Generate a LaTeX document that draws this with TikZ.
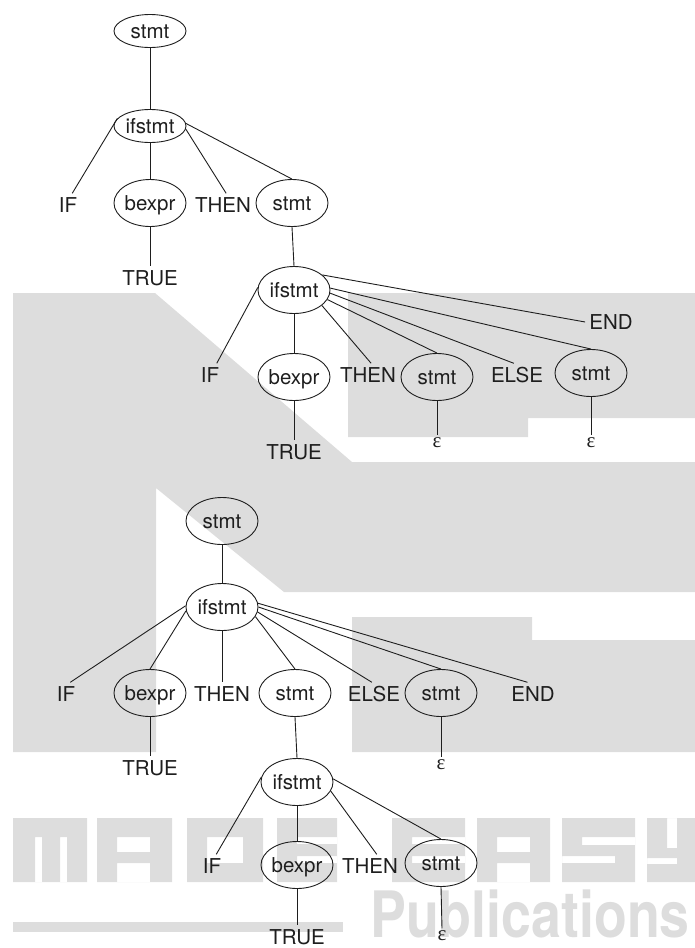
\documentclass[tikz,border=0pt]{standalone}
\usepackage{fontspec}
\setmainfont{TeX Gyre Heros}
\newfontfamily\epsfont{Liberation Serif}
\usetikzlibrary{shapes.geometric}
\definecolor{wmgray}{RGB}{221,221,221}
\definecolor{ink}{RGB}{30,30,30}

\begin{document}
\begin{tikzpicture}[x=1pt,y=-1pt,
  nt/.style={ellipse, draw=ink, line width=0.9pt, minimum width=72pt,
    minimum height=47pt, inner sep=0pt, text height=15pt, text depth=0pt,
    font=\fontsize{20.5}{21}\selectfont, text=ink},
  ntflat/.style={nt, minimum height=33pt},
  tok/.style={inner sep=4pt, text height=15pt, text depth=0pt,
    font=\fontsize{20.5}{21}\selectfont, text=ink},
  eps/.style={inner sep=3pt, text height=9pt, text depth=0pt,
    font=\epsfont\fontsize{21}{21}\selectfont, text=ink},
  edge/.style={draw=ink, line width=0.9pt}
]
\useasboundingbox (0,0) rectangle (695,948);

% background logo shapes
\fill[wmgray] (13,293) -- (155,293) -- (352,462) -- (695,462) -- (695,592)
  -- (284,592) -- (156,488) -- (156,752) -- (13,752) -- cycle;
\fill[wmgray] (348,293) -- (695,293) -- (695,418) -- (528,418) -- (528,437)
  -- (348,437) -- cycle;
\fill[wmgray] (352,617) -- (532,617) -- (532,640) -- (695,640) -- (695,752)
  -- (352,752) -- cycle;
% block letters
\fill[wmgray, even odd rule] (13,818) rectangle (87,882)
  (35,837) rectangle (42,882) (60,837) rectangle (67,882);
\fill[wmgray, even odd rule] (97,818) rectangle (172,882)
  (117,837) rectangle (150,852) (117,863) rectangle (150,882);
\fill[wmgray, even odd rule] (187,818) rectangle (263,882)
  (207,837) rectangle (243,863);
\fill[wmgray, even odd rule] (277,818) rectangle (337,882)
  (297,837) rectangle (337,844) (297,856) rectangle (337,863);
\fill[wmgray, even odd rule] (392,818) rectangle (465,882)
  (412,837) rectangle (465,844) (412,856) rectangle (465,863);
\fill[wmgray, even odd rule] (477,818) rectangle (550,882)
  (497,837) rectangle (530,852) (497,863) rectangle (530,882);
\fill[wmgray, even odd rule] (562,818) rectangle (635,882)
  (582,837) rectangle (635,845) (562,856) rectangle (615,863);
\fill[wmgray, even odd rule] (647,818) rectangle (695,882)
  (667,818) rectangle (677,848) (647,858) rectangle (677,864);
\fill[wmgray] (13,922) rectangle (343,932);
\node[anchor=base west, inner sep=0pt, text=wmgray,
  font=\fontsize{64}{64}\selectfont\bfseries] (pub) at (370,937)
  {\scalebox{0.84}[1]{Publications}};

% first tree
\node[ntflat] (s1) at (150,31) {stmt};
\node[ntflat] (i1) at (150,126) {ifstmt};
\node[tok] (if1) at (68,205) {IF};
\node[nt] (b1) at (150,203) {bexpr};
\node[tok] (th1) at (223,205) {THEN};
\node[nt] (s2) at (292,203) {stmt};
\node[tok] (tr1) at (150,278) {TRUE};
\node[nt] (i2) at (294,290) {ifstmt};
\node[tok] (if2) at (210,375) {IF};
\node[nt] (b2) at (294,377) {bexpr};
\node[tok] (th2) at (368,375) {THEN};
\node[nt] (s3) at (437,377) {stmt};
\node[tok] (el2) at (517,375) {ELSE};
\node[nt] (s4) at (591,373) {stmt};
\node[tok] (en2) at (611,322) {END};
\node[tok] (tr2) at (294,452) {TRUE};
\node[eps] (e3) at (437,443) {ε};
\node[eps] (e4) at (591,443) {ε};

\path[edge] (s1.south) -- (i1.north);
\path[edge] (i1.167) -- (if1.70);
\path[edge] (i1.south) -- (b1.north);
\path[edge] (i1.-5) -- (th1.75);
\path[edge] (i1.4) -- (s2.north);
\path[edge] (b1.south) -- (tr1.north);
\path[edge] (s2.south) -- (i2.north);
\path[edge] (i2.176) -- (if2.60);
\path[edge] (i2.south) -- (b2.north);
\path[edge] (i2.-29) -- (th2.75);
\path[edge] (i2.-16) -- (s3.north);
\path[edge] (i2.-5) -- (el2.105);
\path[edge] (i2.3) -- (s4.north);
\path[edge] (i2.28) -- (en2.west);
\path[edge] (b2.south) -- (tr2.north);
\path[edge] (s3.south) -- (e3.north);
\path[edge] (s4.south) -- (e4.north);

% second tree
\node[nt] (r) at (222,521) {stmt};
\node[nt] (j) at (222,607) {ifstmt};
\node[tok] (if3) at (66,694) {IF};
\node[nt] (b3) at (150,693) {bexpr};
\node[tok] (th3) at (222,694) {THEN};
\node[nt] (s5) at (295,693) {stmt};
\node[tok] (el3) at (374,694) {ELSE};
\node[nt] (s6) at (441,693) {stmt};
\node[tok] (en3) at (533,694) {END};
\node[tok] (tr3) at (150,768) {TRUE};
\node[eps] (e6) at (441,765) {ε};
\node[nt] (k) at (297,782) {ifstmt};
\node[tok] (if4) at (212,866) {IF};
\node[nt] (b4) at (297,865) {bexpr};
\node[tok] (th4) at (370,866) {THEN};
\node[nt] (s7) at (441,863) {stmt};
\node[tok] (tr4) at (297,937) {TRUE};
\node[eps] (e7) at (442,936) {ε};

\path[edge] (r.south) -- (j.north);
\path[edge] (j.178) -- (if3.70);
\path[edge] (j.186) -- (b3.north);
\path[edge] (j.south) -- (th3.north);
\path[edge] (j.-16) -- (s5.north);
\path[edge] (j.-8) -- (el3.100);
\path[edge] (j.0) -- (s6.north);
\path[edge] (j.6) -- (en3.115);
\path[edge] (b3.south) -- (tr3.north);
\path[edge] (s6.south) -- (e6.north);
\path[edge] (s5.south) -- (k.north);
\path[edge] (k.172) -- (if4.70);
\path[edge] (k.south) -- (b4.north);
\path[edge] (k.-15) -- (th4.60);
\path[edge] (k.5) -- (s7.north);
\path[edge] (b4.south) -- (tr4.north);
\path[edge] (s7.south) -- (e7.north);
\end{tikzpicture}
\end{document}
